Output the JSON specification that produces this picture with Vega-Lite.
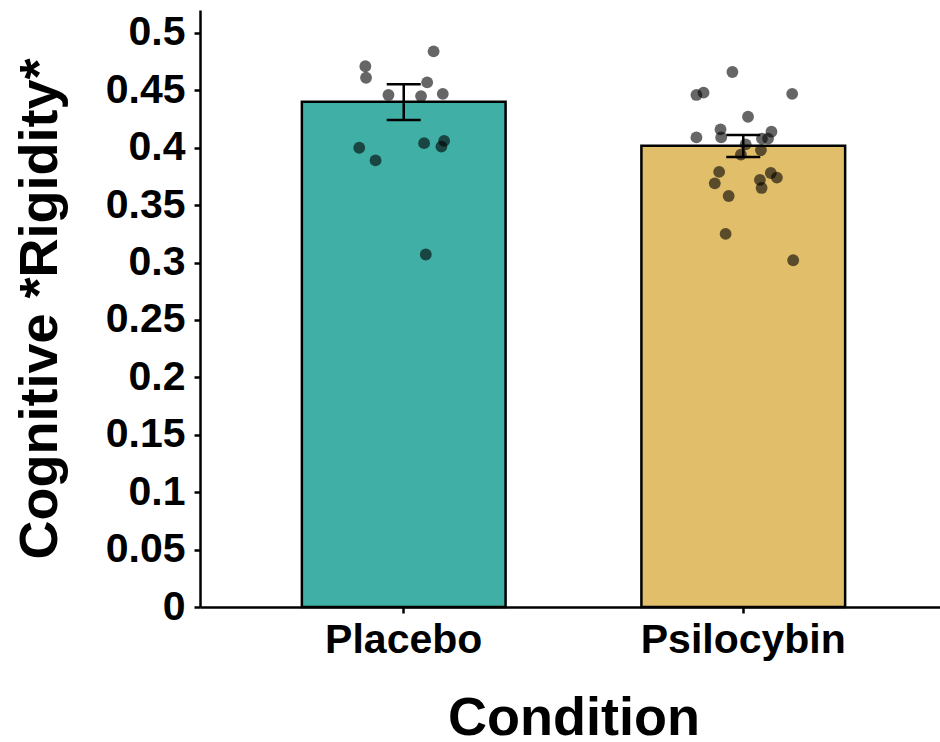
{
  "$schema": "https://vega.github.io/schema/vega-lite/v6.json",
  "width": 740,
  "height": 597,
  "autosize": "none",
  "padding": {"left": 200, "top": 10, "right": 0, "bottom": 135},
  "background": "white",
  "config": {
    "view": {"stroke": null},
    "font": "Liberation Sans",
    "axis": {
      "domainColor": "black",
      "domainWidth": 2.5,
      "tickColor": "black",
      "tickWidth": 2.5,
      "tickSize": 6,
      "labelColor": "black",
      "labelFont": "Liberation Sans",
      "labelFontSize": 41,
      "labelFontWeight": "bold",
      "labelLimit": 0,
      "titleColor": "black",
      "titleFont": "Liberation Sans",
      "titleFontSize": 54,
      "titleFontWeight": "bold",
      "grid": false
    }
  },
  "datasets": {
    "summary": [
      {"Condition": "Placebo", "mean": 0.44, "lo": 0.4242, "hi": 0.4553},
      {"Condition": "Psilocybin", "mean": 0.4018, "lo": 0.392, "hi": 0.4111}
    ],
    "points": [
      {"Condition": "Placebo", "jitter": 0.088, "value": 0.484},
      {"Condition": "Placebo", "jitter": -0.113, "value": 0.471},
      {"Condition": "Placebo", "jitter": -0.111, "value": 0.461},
      {"Condition": "Placebo", "jitter": 0.069, "value": 0.457},
      {"Condition": "Placebo", "jitter": -0.045, "value": 0.446},
      {"Condition": "Placebo", "jitter": 0.051, "value": 0.445},
      {"Condition": "Placebo", "jitter": 0.115, "value": 0.447},
      {"Condition": "Placebo", "jitter": -0.131, "value": 0.400},
      {"Condition": "Placebo", "jitter": -0.083, "value": 0.389},
      {"Condition": "Placebo", "jitter": 0.060, "value": 0.404},
      {"Condition": "Placebo", "jitter": 0.119, "value": 0.406},
      {"Condition": "Placebo", "jitter": 0.111, "value": 0.401},
      {"Condition": "Placebo", "jitter": 0.065, "value": 0.307},
      {"Condition": "Psilocybin", "jitter": -0.032, "value": 0.466},
      {"Condition": "Psilocybin", "jitter": -0.138, "value": 0.446},
      {"Condition": "Psilocybin", "jitter": -0.117, "value": 0.448},
      {"Condition": "Psilocybin", "jitter": 0.144, "value": 0.447},
      {"Condition": "Psilocybin", "jitter": 0.014, "value": 0.427},
      {"Condition": "Psilocybin", "jitter": -0.067, "value": 0.416},
      {"Condition": "Psilocybin", "jitter": -0.138, "value": 0.409},
      {"Condition": "Psilocybin", "jitter": -0.065, "value": 0.409},
      {"Condition": "Psilocybin", "jitter": 0.083, "value": 0.414},
      {"Condition": "Psilocybin", "jitter": 0.073, "value": 0.408},
      {"Condition": "Psilocybin", "jitter": 0.055, "value": 0.408},
      {"Condition": "Psilocybin", "jitter": 0.007, "value": 0.403},
      {"Condition": "Psilocybin", "jitter": 0.052, "value": 0.398},
      {"Condition": "Psilocybin", "jitter": -0.007, "value": 0.394},
      {"Condition": "Psilocybin", "jitter": -0.071, "value": 0.379},
      {"Condition": "Psilocybin", "jitter": -0.084, "value": 0.369},
      {"Condition": "Psilocybin", "jitter": 0.049, "value": 0.372},
      {"Condition": "Psilocybin", "jitter": 0.081, "value": 0.378},
      {"Condition": "Psilocybin", "jitter": 0.099, "value": 0.374},
      {"Condition": "Psilocybin", "jitter": 0.054, "value": 0.365},
      {"Condition": "Psilocybin", "jitter": -0.043, "value": 0.358},
      {"Condition": "Psilocybin", "jitter": -0.052, "value": 0.325},
      {"Condition": "Psilocybin", "jitter": 0.147, "value": 0.302}
    ]
  },
  "encoding": {
    "x": {
      "field": "Condition",
      "type": "nominal",
      "scale": {"type": "band", "domain": ["Placebo", "Psilocybin"], "paddingInner": 0.4, "paddingOuter": 0.3, "range": [0, 747]},
      "axis": {"labelAngle": 0, "title": "Condition", "labelPadding": 7, "titlePadding": 31}
    }
  },
  "resolve": {"scale": {"xOffset": "independent"}},
  "layer": [
    {
      "data": {"name": "summary"},
      "mark": {"type": "bar", "stroke": "black", "strokeWidth": 2.5, "width": {"band": 1}},
      "encoding": {
        "y": {
          "field": "mean",
          "type": "quantitative",
          "scale": {"domain": [0, 0.52], "nice": false, "zero": true},
          "axis": {
            "title": "Cognitive *Rigidity*",
            "values": [0, 0.05, 0.1, 0.15, 0.2, 0.25, 0.3, 0.35, 0.4, 0.45, 0.5],
            "format": "~g",
            "labelPadding": 9,
            "titlePadding": 38
          }
        },
        "fill": {
          "field": "Condition",
          "type": "nominal",
          "scale": {"domain": ["Placebo", "Psilocybin"], "range": ["#40B0A6", "#E1BE6A"]},
          "legend": null
        }
      }
    },
    {
      "data": {"name": "summary"},
      "mark": {"type": "rule", "color": "black", "strokeWidth": 2.5},
      "encoding": {
        "y": {"field": "lo", "type": "quantitative"},
        "y2": {"field": "hi"}
      }
    },
    {
      "data": {"name": "summary"},
      "mark": {"type": "tick", "color": "black", "thickness": 2.5, "size": 34, "orient": "horizontal", "opacity": 1},
      "encoding": {
        "y": {"field": "lo", "type": "quantitative"}
      }
    },
    {
      "data": {"name": "summary"},
      "mark": {"type": "tick", "color": "black", "thickness": 2.5, "size": 34, "orient": "horizontal", "opacity": 1},
      "encoding": {
        "y": {"field": "hi", "type": "quantitative"}
      }
    },
    {
      "data": {"name": "points"},
      "mark": {"type": "circle", "color": "black", "opacity": 0.6, "size": 140},
      "encoding": {
        "xOffset": {"field": "jitter", "type": "quantitative", "scale": {"domain": [-0.3, 0.3]}},
        "y": {"field": "value", "type": "quantitative"}
      }
    }
  ]
}
